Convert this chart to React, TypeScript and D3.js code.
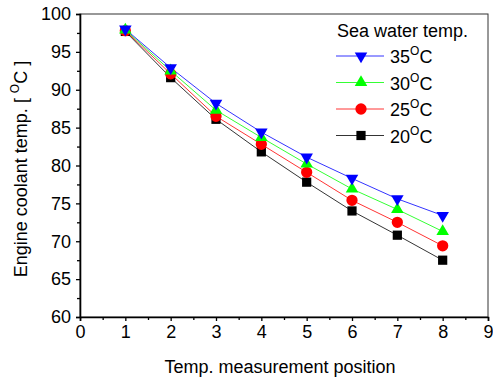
import React, { useEffect, useRef } from "react";
import * as d3 from "d3";

// measurement positions
const positions = [1, 2, 3, 4, 5, 6, 7, 8];

// engine coolant temp per sea water temp
const temp35 = [98.0, 92.9, 88.2, 84.4, 81.1, 78.3, 75.6, 73.4];
const temp30 = [97.9, 92.5, 87.3, 83.7, 80.2, 76.9, 74.2, 71.3];
const temp25 = [97.8, 92.1, 86.5, 82.8, 79.1, 75.4, 72.5, 69.4];
const temp20 = [97.7, 91.6, 86.1, 81.8, 77.8, 74.0, 70.8, 67.5];

const seriesNames = ["35", "30", "25", "20"];
const xTicks = [0, 1, 2, 3, 4, 5, 6, 7, 8, 9];
const yTicks = [60, 65, 70, 75, 80, 85, 90, 95, 100];

const FONT = "'Liberation Sans', Arial, sans-serif";

function App() {
  const ref = useRef<SVGSVGElement | null>(null);

  const width = 493, height = 381;
  const margin = { top: 14, right: 5, bottom: 64, left: 80 };

  useEffect(() => {
    const svg = d3.select(ref.current);
    svg.selectAll("*").remove();

    const x = d3.scaleLinear().domain([0, 9]).range([margin.left, width - margin.right]);
    const y = d3.scaleLinear().domain([60, 100]).range([height - margin.bottom, margin.top]);

    const series = [
      { name: seriesNames[3], values: temp20, color: "#000000", shape: "square" },
      { name: seriesNames[2], values: temp25, color: "#ff0000", shape: "circle" },
      { name: seriesNames[1], values: temp30, color: "#00ff00", shape: "up" },
      { name: seriesNames[0], values: temp35, color: "#0000ff", shape: "down" },
    ];

    const symbolPath = (shape: string) => {
      if (shape === "square") return d3.symbol().type(d3.symbolSquare).size(85)()!;
      if (shape === "circle") return d3.symbol().type(d3.symbolCircle).size(100)()!;
      return d3.symbol().type(d3.symbolTriangle).size(68)()!;
    };
    const symbolTransform = (shape: string, cx: number, cy: number) =>
      shape === "down" ? `translate(${cx},${cy}) rotate(180)` : `translate(${cx},${cy})`;

    // frame
    svg.append("rect")
      .attr("x", margin.left).attr("y", margin.top)
      .attr("width", width - margin.right - margin.left)
      .attr("height", height - margin.bottom - margin.top)
      .attr("fill", "none").attr("stroke", "#333").attr("stroke-width", 1);

    // x axis
    const gx = svg.append("g")
      .attr("transform", `translate(0,${height - margin.bottom})`)
      .call(d3.axisBottom(x).tickValues(xTicks).tickFormat(d3.format("d")).tickSize(4).tickPadding(4));
    gx.select(".domain").attr("stroke-width", 1.6);
    gx.selectAll(".tick line").attr("stroke-width", 1.3);
    gx.selectAll("text").attr("font-family", FONT).attr("font-size", 18).attr("fill", "#000");
    svg.append("g")
      .attr("transform", `translate(0,${height - margin.bottom})`)
      .call(d3.axisBottom(x).tickValues(d3.range(0.5, 9, 1)).tickFormat(() => "").tickSize(3))
      .call(g => g.select(".domain").remove())
      .selectAll(".tick line").attr("stroke-width", 1.3);

    // y axis
    const gy = svg.append("g")
      .attr("transform", `translate(${margin.left},0)`)
      .call(d3.axisLeft(y).tickValues(yTicks).tickSize(4).tickPadding(5));
    gy.select(".domain").attr("stroke-width", 1.6);
    gy.selectAll(".tick line").attr("stroke-width", 1.3);
    gy.selectAll("text").attr("font-family", FONT).attr("font-size", 18).attr("fill", "#000");
    svg.append("g")
      .attr("transform", `translate(${margin.left},0)`)
      .call(d3.axisLeft(y).tickValues(d3.range(62.5, 100, 5)).tickFormat(() => "").tickSize(3))
      .call(g => g.select(".domain").remove())
      .selectAll(".tick line").attr("stroke-width", 1.3);

    // lines and markers
    const line = d3.line<number>()
      .x((d, i) => x(positions[i]))
      .y(d => y(d));

    series.forEach(s => {
      svg.append("path")
        .datum(s.values)
        .attr("fill", "none")
        .attr("stroke", s.color)
        .attr("stroke-width", 0.8)
        .attr("d", line);
    });
    series.forEach(s => {
      svg.append("g").selectAll("path")
        .data(s.values)
        .join("path")
        .attr("d", symbolPath(s.shape))
        .attr("transform", (d, i) => symbolTransform(s.shape, x(positions[i]), y(d)))
        .attr("fill", s.color);
    });

    // legend
    const lg = svg.append("g").attr("font-family", FONT).attr("font-size", 18);
    lg.append("text").attr("x", 337).attr("y", 37).text("Sea water temp.");
    const legendOrder = [series[3], series[2], series[1], series[0]];
    legendOrder.forEach((s, i) => {
      const yy = 56 + i * 26.5;
      lg.append("line")
        .attr("x1", 336).attr("x2", 384).attr("y1", yy).attr("y2", yy)
        .attr("stroke", s.color).attr("stroke-width", 0.8);
      lg.append("path")
        .attr("d", symbolPath(s.shape))
        .attr("transform", symbolTransform(s.shape, 361, yy))
        .attr("fill", s.color);
      const t = lg.append("text").attr("x", 390).attr("y", yy + 7);
      t.append("tspan").text(s.name);
      t.append("tspan").attr("font-size", 12).attr("dy", -8).text("O");
      t.append("tspan").attr("dy", 8).text("C");
    });

    // axis titles
    svg.append("text")
      .attr("x", 280)
      .attr("y", 373)
      .attr("text-anchor", "middle")
      .attr("font-family", FONT).attr("font-size", 18)
      .text("Temp. measurement position");

    const yl = svg.append("text")
      .attr("transform", `translate(27,169) rotate(-90)`)
      .attr("text-anchor", "middle")
      .attr("font-family", FONT).attr("font-size", 18);
    yl.append("tspan").text("Engine coolant temp. [ ");
    yl.append("tspan").attr("font-size", 12).attr("dy", -8).text("O");
    yl.append("tspan").attr("dy", 8).text("C ]");
  }, []);

  return (
    <svg ref={ref} width={width} height={height}
      style={{ position: "absolute", left: 0, top: 0, background: "#fff" }} />
  );
}

export default App;
